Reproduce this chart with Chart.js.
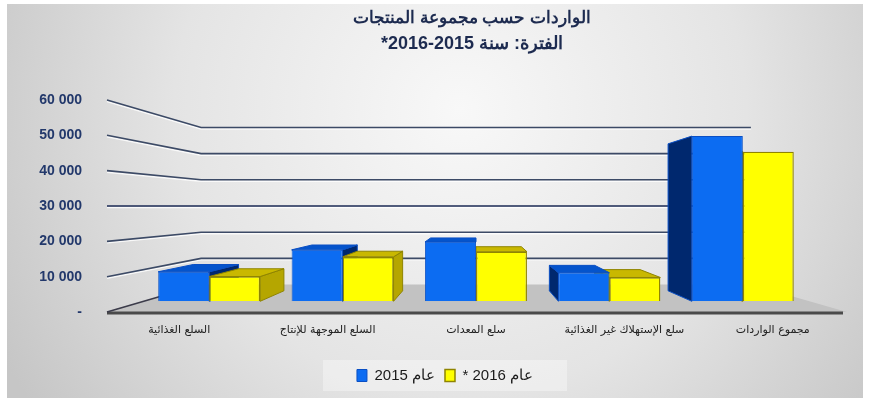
<!DOCTYPE html>
<html lang="ar">
<head>
<meta charset="utf-8">
<script src="https://cdn.jsdelivr.net/npm/chart.js@4.4.1/dist/chart.umd.min.js"></script>
<style>
  html, body { margin: 0; padding: 0; background: #fff; }
  #contenedor { width: 869px; height: 403px; }
  canvas { direction: rtl; }
</style>
</head>
<body>
<div id="contenedor"><canvas id="graficoImportaciones"></canvas></div>
<script>
// Datos del gráfico (millones de USD)
const categorias = [
    'السلع الغذائية',
    'السلع الموجهة للإنتاج',
    'سلع المعدات',
    'سلع الإستهلاك غير الغذائية',
    'مجموع الواردات'
];
const valores2015 = [9300, 16200, 18700, 9000, 52000];
const valores2016 = [7800, 14000, 15600, 7500, 47100];
const nombresSeries = ['عام 2015', 'عام 2016 *'];
const etiquetasY = ['-', '10 000', '20 000', '30 000', '40 000', '50 000', '60 000'];
const titulo = 'الواردات حسب مجموعة المنتجات';
const subtitulo = 'الفترة: سنة 2015-2016*';

// Profundidad de cada plano respecto al frente (1 = frente del eje)
const K_BARRA = 0.899;      // cara frontal de las barras
const K_BARRA_FONDO = 0.80; // cara trasera de las barras
const K_PARED = 0.741;      // pared del fondo

const colores = [
    { frente: '#0c6cf2', borde: '#0a4fc4', lado: '#00286e', tapa: '#0454cc' },
    { frente: '#ffff00', borde: '#8f8400', lado: '#b5a600', tapa: '#c9b800' }
];

// Plugin que dibuja fondo, piso, cuadrícula y caras 3D de las barras
const perspectiva = {
    id: 'perspectiva',
    afterLayout(chart) {
        // títulos y leyenda no van centrados en el lienzo
        chart.boxes.forEach(b => {
            if (b.position === 'top' && b.options && b.options.text) {
                b.left += 45;
                b.right += 45;
            }
        });
        chart.legend.left += 18;
        chart.legend.right += 18;
    },
    beforeDraw(chart) {
        const { ctx, width, height } = chart;
        ctx.save();
        ctx.fillStyle = '#ffffff';
        ctx.fillRect(0, 0, width, height);
        const g = ctx.createRadialGradient(460, 110, 0, 460, 110, 520);
        g.addColorStop(0, '#f8f8f8');
        g.addColorStop(0.55, '#e4e4e4');
        g.addColorStop(1, '#c6c6c6');
        ctx.fillStyle = g;
        ctx.fillRect(7, 4, width - 13, height - 9);
        // recuadro de la leyenda
        const lg = chart.legend;
        const cx = (lg.left + lg.right) / 2;
        ctx.fillStyle = 'rgba(255,255,255,0.35)';
        ctx.fillRect(cx - 122, lg.top + 2, 244, 31);
        ctx.restore();
    },
    beforeDatasetsDraw(chart) {
        const { ctx, chartArea: a, scales } = chart;
        const y = scales.y;
        const vx = (a.left + a.right) / 2;
        const vy = y.getPixelForValue(30000);
        const proy = (px, py, k) => [vx + k * (px - vx), vy + k * (py - vy)];

        const cara = (pts, relleno, trazo) => {
            ctx.beginPath();
            ctx.moveTo(pts[0][0], pts[0][1]);
            for (let i = 1; i < pts.length; i++) ctx.lineTo(pts[i][0], pts[i][1]);
            ctx.closePath();
            ctx.fillStyle = relleno;
            ctx.fill();
            if (trazo) {
                ctx.strokeStyle = trazo;
                ctx.lineWidth = 1;
                ctx.stroke();
            }
        };

        ctx.save();

        // piso gris
        const y0 = y.getPixelForValue(0);
        const pisoFondoIzq = proy(a.left, y0, K_PARED);
        const pisoFondoDer = proy(a.right, y0, K_PARED);
        cara([[a.left, y0], [a.right, y0], pisoFondoDer, pisoFondoIzq], '#c2c2c2');
        ctx.strokeStyle = '#4a4a4a';
        ctx.lineWidth = 3;
        ctx.beginPath();
        ctx.moveTo(a.left + 2, y0 + 1);
        ctx.lineTo(a.right - 4, y0 + 1);
        ctx.stroke();
        ctx.strokeStyle = '#3b3b4a';
        ctx.lineWidth = 1.5;
        ctx.beginPath();
        ctx.moveTo(a.left + 2, y0);
        ctx.lineTo(pisoFondoIzq[0], pisoFondoIzq[1]);
        ctx.stroke();

        // líneas de la cuadrícula: pared izquierda y pared del fondo
        y.ticks.forEach(t => {
            if (t.value === 0) return;
            const yf = y.getPixelForValue(t.value);
            const p1 = [a.left + 2, yf];
            const p2 = proy(a.left, yf, K_PARED);
            const p3 = proy(a.right, yf, K_PARED);
            ctx.lineWidth = 1.5;
            ctx.strokeStyle = 'rgba(255,255,255,0.8)';
            ctx.beginPath();
            ctx.moveTo(p1[0], p1[1] + 1.5);
            ctx.lineTo(p2[0], p2[1] + 1.5);
            ctx.lineTo(p3[0], p3[1] + 1.5);
            ctx.stroke();
            ctx.lineWidth = 1.6;
            ctx.strokeStyle = t.value === 30000 ? '#1b2a55' : '#3c4a66';
            ctx.beginPath();
            ctx.moveTo(p1[0], p1[1]);
            ctx.lineTo(p2[0], p2[1]);
            ctx.lineTo(p3[0], p3[1]);
            ctx.stroke();
        });

        // caras laterales y superiores de cada barra
        const metas = [0, 1].map(i => chart.getDatasetMeta(i));
        categorias.forEach((_, j) => {
            const cx = scales.x.getPixelForValue(j);
            const orden = cx < vx ? [0, 1] : [1, 0];
            orden.forEach(d => {
                const barra = metas[d].data[j];
                const { x, y: tope, base, width } = barra.getProps(['x', 'y', 'base', 'width'], true);
                const izq = x - width / 2;
                const der = x + width / 2;
                const f = (px, py) => proy(px, py, K_BARRA);
                const b = (px, py) => proy(px, py, K_BARRA_FONDO);
                const c = colores[d];
                if (f(der, 0)[0] < vx - 0.5) {
                    cara([f(der, tope), f(der, base), b(der, base), b(der, tope)], c.lado, c.borde);
                }
                if (f(izq, 0)[0] > vx + 0.5) {
                    cara([f(izq, tope), f(izq, base), b(izq, base), b(izq, tope)], c.lado, c.borde);
                }
                if (f(0, tope)[1] > vy) {
                    cara([f(izq, tope), f(der, tope), b(der, tope), b(izq, tope)], c.tapa, c.borde);
                }
            });
        });

        ctx.restore();

        // las caras frontales se dibujan en el plano de las barras
        ctx.save();
        ctx.translate(vx, vy);
        ctx.scale(K_BARRA, K_BARRA);
        ctx.translate(-vx, -vy);
    },
    afterDatasetsDraw(chart) {
        chart.ctx.restore();
    }
};

const ctx = document.getElementById('graficoImportaciones').getContext('2d');

const data = {
    labels: categorias,
    datasets: [
        {
            label: nombresSeries[0],
            data: valores2015,
            backgroundColor: colores[0].frente,
            borderColor: colores[0].borde,
            borderWidth: 1
        },
        {
            label: nombresSeries[1],
            data: valores2016,
            backgroundColor: colores[1].frente,
            borderColor: colores[1].borde,
            borderWidth: 1.5
        }
    ]
};

const config = {
    type: 'bar',
    data: data,
    plugins: [perspectiva],
    options: {
        responsive: true,
        maintainAspectRatio: false,
        animation: false,
        categoryPercentage: 0.764,
        barPercentage: 1,
        layout: {
            padding: { left: 7, right: 22, top: 4, bottom: 10 }
        },
        plugins: {
            title: {
                display: true,
                text: titulo,
                color: '#1d2b50',
                font: { family: 'Liberation Sans', size: 17, weight: 'bold' },
                padding: { top: 4, bottom: 2 }
            },
            subtitle: {
                display: true,
                text: subtitulo,
                color: '#1d2b50',
                font: { family: 'Liberation Sans', size: 18, weight: 'bold' },
                padding: { top: 3, bottom: 45 }
            },
            legend: {
                position: 'bottom',
                labels: {
                    color: '#1a1a1a',
                    font: { family: 'Liberation Sans', size: 15 },
                    boxWidth: 10,
                    boxHeight: 12,
                    padding: 10
                }
            },
            tooltip: { enabled: false }
        },
        scales: {
            x: {
                grid: { display: false, drawTicks: false },
                border: { display: false },
                ticks: {
                    color: '#222222',
                    font: { family: 'DejaVu Sans', size: 11 },
                    padding: 12,
                    maxRotation: 0,
                    autoSkip: false
                },
                afterFit(scale) { scale.height = 46; }
            },
            y: {
                min: 0,
                max: 60000,
                grid: { display: false, drawTicks: false },
                border: { display: false },
                ticks: {
                    stepSize: 10000,
                    color: '#22386b',
                    font: { family: 'Liberation Sans', size: 14, weight: 'bold' },
                    padding: 23,
                    // marca LRM para que los números se lean de izquierda a derecha
                    callback: (v, i) => '\u200E' + etiquetasY[i]
                },
                afterFit(scale) { scale.width = 98; }
            }
        }
    }
};

new Chart(ctx, config);
</script>
</body>
</html>
